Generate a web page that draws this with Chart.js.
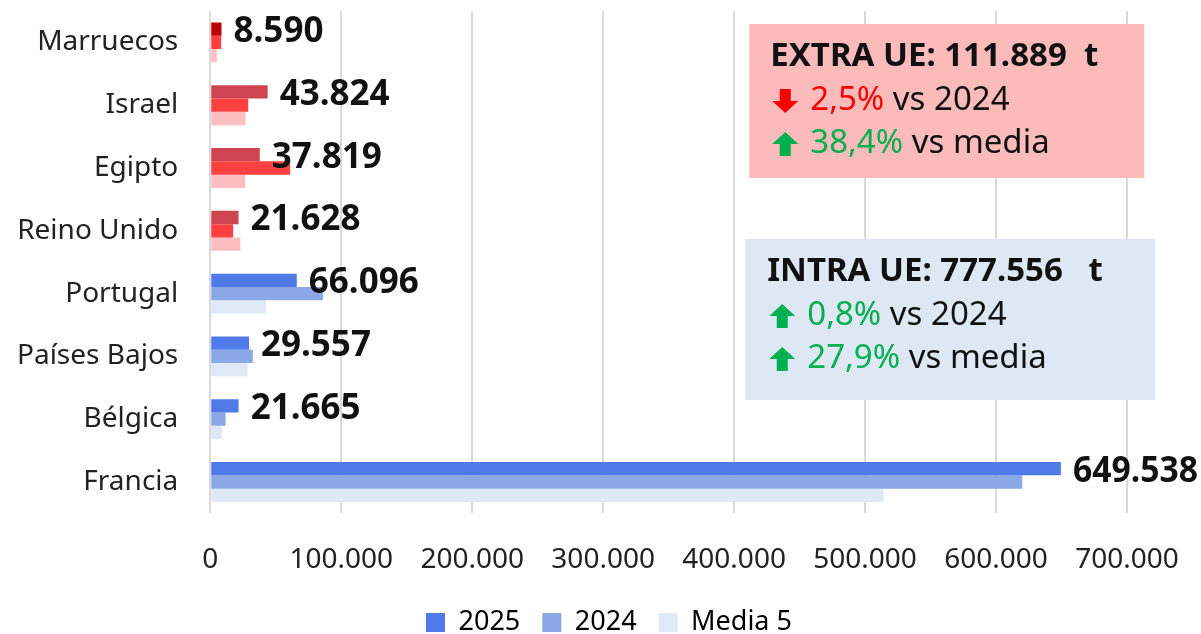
<!DOCTYPE html>
<html>
<head>
<meta charset="utf-8">
<script src="https://cdn.jsdelivr.net/npm/chart.js@4/dist/chart.umd.min.js"></script>
<style>
  html, body { margin: 0; padding: 0; background: #fff; }
  #contenedor { width: 1201px; height: 634px; }
</style>
</head>
<body>
<div id="contenedor"><canvas id="graficoDestinos"></canvas></div>
<script>
// Datos (toneladas)
const paises = ['Marruecos', 'Israel', 'Egipto', 'Reino Unido', 'Portugal', 'Países Bajos', 'Bélgica', 'Francia'];
const valores2025 = [8590, 43824, 37819, 21628, 66096, 29557, 21665, 649538];
const valores2024 = [8400, 29000, 61000, 17500, 86000, 32500, 11700, 620000];
const valoresMedia5 = [5000, 27000, 26700, 23000, 42500, 28500, 9000, 514000];
const nombresSeries = ['2025', '2024', 'Media 5'];

// Colores: rojo para extra UE, azul para intra UE
const colores2025 = ['#C00000', '#CE4450', '#CE4450', '#CE4450', '#507AE8', '#507AE8', '#507AE8', '#507AE8'];
const colores2024 = ['#FF4040', '#FF4040', '#FF4040', '#FF4040', '#8AA8E6', '#8AA8E6', '#8AA8E6', '#8AA8E6'];
const coloresMedia = ['#FCBEC0', '#FCBEC0', '#FCBEC0', '#FCBEC0', '#DEE9F5', '#DEE9F5', '#DEE9F5', '#DEE9F5'];
const coloresLeyenda = ['#507AE8', '#8AA8E6', '#DEE9F5'];

// Cuadros de resumen
const resumenExtra = { titulo: 'EXTRA UE: 111.889  t', lineas: [['baja', '2,5%', ' vs 2024'], ['sube', '38,4%', ' vs media']] };
const resumenIntra = { titulo: 'INTRA UE: 777.556   t', lineas: [['sube', '0,8%', ' vs 2024'], ['sube', '27,9%', ' vs media']] };

const FUENTE = '"Noto Sans", sans-serif';

function formatoMiles(v) {
    return String(Math.round(v)).replace(/\B(?=(\d{3})+(?!\d))/g, '.');
}

function dibujarFlecha(ctx, x, y, tipo) {
    // x,y = centro de la flecha
    ctx.save();
    ctx.fillStyle = tipo === 'sube' ? '#00B050' : '#FF0000';
    const s = tipo === 'sube' ? 1 : -1;
    ctx.beginPath();
    ctx.moveTo(x, y - 12 * s);
    ctx.lineTo(x + 13, y);
    ctx.lineTo(x + 5.5, y);
    ctx.lineTo(x + 5.5, y + 12 * s);
    ctx.lineTo(x - 5.5, y + 12 * s);
    ctx.lineTo(x - 5.5, y);
    ctx.lineTo(x - 13, y);
    ctx.closePath();
    ctx.fill();
    ctx.restore();
}

function dibujarCuadro(ctx, caja, resumen) {
    ctx.save();
    ctx.fillStyle = caja.fondo;
    ctx.fillRect(caja.x, caja.y, caja.w, caja.h);
    ctx.textBaseline = 'middle';
    ctx.textAlign = 'left';
    ctx.fillStyle = '#111';
    ctx.font = 'bold 33px ' + FUENTE;
    ctx.fillText(resumen.titulo, caja.x + caja.margen - 40, caja.y + 33);
    resumen.lineas.forEach((linea, i) => {
        const yl = caja.y + 77 + i * 43;
        dibujarFlecha(ctx, caja.x + caja.margen - 25, yl, linea[0]);
        ctx.font = '33px ' + FUENTE;
        ctx.fillStyle = linea[0] === 'sube' ? '#00B050' : '#FF0000';
        ctx.fillText(linea[1], caja.x + caja.margen, yl);
        const w = ctx.measureText(linea[1]).width;
        ctx.fillStyle = '#111';
        ctx.fillText(linea[2], caja.x + caja.margen + w, yl);
    });
    ctx.restore();
}

const pluginEtiquetas = {
    id: 'etiquetasYCuadros',
    beforeDatasetsDraw(chart) {
        const ctx = chart.ctx;
        const area = chart.chartArea;
        dibujarCuadro(ctx, { x: area.left + 539, y: area.top + 13, w: 395, h: 154, margen: 61, fondo: '#FBBBBB' }, resumenExtra);
        dibujarCuadro(ctx, { x: area.left + 535, y: area.top + 228, w: 410, h: 161, margen: 62, fondo: '#DEE8F4' }, resumenIntra);
    },
    afterDatasetsDraw(chart) {
        const ctx = chart.ctx;
        const meta = chart.getDatasetMeta(0);
        ctx.save();
        ctx.font = 'bold 35px ' + FUENTE;
        ctx.fillStyle = '#111';
        ctx.textAlign = 'left';
        ctx.textBaseline = 'middle';
        meta.data.forEach((barra, i) => {
            const xTexto = barra.x + 12;
            ctx.fillText(formatoMiles(valores2025[i]), xTexto, barra.y + 3, chart.width - xTexto - 3);
        });
        ctx.restore();
    }
};

const ctx = document.getElementById('graficoDestinos').getContext('2d');
const chartInstance = new Chart(ctx, {
    type: 'bar',
    data: {
        labels: paises,
        datasets: [
            { label: nombresSeries[0], data: valores2025, backgroundColor: colores2025 },
            { label: nombresSeries[1], data: valores2024, backgroundColor: colores2024 },
            { label: nombresSeries[2], data: valoresMedia5, backgroundColor: coloresMedia }
        ]
    },
    options: {
        indexAxis: 'y',
        responsive: true,
        maintainAspectRatio: false,
        animation: false,
        datasets: {
            bar: { barPercentage: 1, categoryPercentage: 0.635 }
        },
        layout: { padding: { top: 11, right: 0, left: 17, bottom: -12 } },
        scales: {
            x: {
                min: 0,
                max: 700000,
                afterFit: (escala) => {
                    escala.height -= 20;
                    escala.paddingRight = 74;
                },
                ticks: {
                    stepSize: 100000,
                    padding: 30,
                    color: '#222',
                    font: { family: FUENTE, size: 28 },
                    callback: (v) => formatoMiles(v)
                },
                grid: { color: '#D9D9D9', lineWidth: 2, drawTicks: false },
                border: { display: false }
            },
            y: {
                ticks: {
                    padding: 0,
                    color: '#222',
                    font: { family: FUENTE, size: 28, lineHeight: 0.4 }
                },
                grid: { display: false, drawTicks: true, tickLength: 32 },
                border: { display: false }
            }
        },
        plugins: {
            tooltip: { enabled: false },
            legend: {
                position: 'bottom',
                labels: {
                    boxWidth: 19,
                    boxHeight: 19,
                    padding: 22,
                    color: '#222',
                    font: { family: FUENTE, size: 27 },
                    generateLabels: (chart) => nombresSeries.map((nombre, i) => ({
                        text: nombre,
                        fillStyle: coloresLeyenda[i],
                        strokeStyle: coloresLeyenda[i],
                        lineWidth: 0,
                        datasetIndex: i
                    }))
                }
            }
        }
    },
    plugins: [pluginEtiquetas]
});
</script>
</body>
</html>
